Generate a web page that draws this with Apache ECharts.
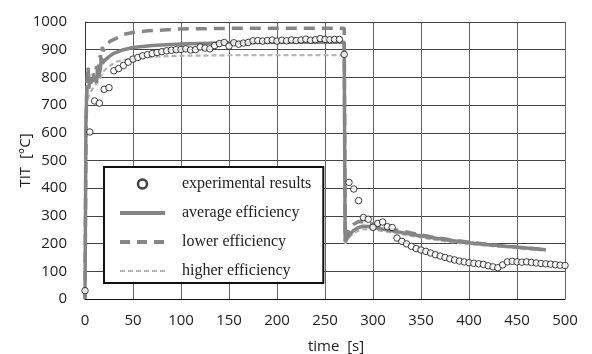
<!DOCTYPE html>
<html>
<head>
<meta charset="utf-8">
<script src="https://cdn.jsdelivr.net/npm/echarts@6/dist/echarts.min.js"></script>
<style>
  html, body { margin: 0; padding: 0; background: #fff; }
  #chart { width: 592px; height: 354px; }
</style>
</head>
<body>
<div id="chart"></div>
<script>
// measured TIT, one sample every 5 s
const expTimes = [];
for (let t = 0; t <= 500; t += 5) expTimes.push(t);
const expValues = [
  30, 603, 715, 707, 757, 763, 824, 832, 843, 855,
  866, 872, 878, 882, 886, 890, 893, 896, 898, 900,
  901, 903, 899, 900, 910, 906, 903, 915, 922, 926,
  913, 925, 920, 924, 926, 932, 933, 931, 933, 935,
  931, 934, 932, 935, 933, 935, 938, 934, 936, 940,
  937, 936, 937, 937, 883, 421, 397, 355, 294, 288,
  259, 273, 278, 261, 258, 220, 208, 199, 190, 182,
  177, 172, 166, 160, 155, 150, 145, 141, 137, 134,
  131, 129, 127, 125, 120, 116, 113, 123, 134, 136,
  134, 133, 134, 132, 130, 128, 127, 126, 124, 122,
  121
];

// model curves: [time, TIT]
const averageEff = [
  [0, 0], [1, 650], [2, 770], [4, 760], [5, 800], [6, 780], [8, 790], [10, 800],
  [12, 780], [13, 830], [14, 800], [16, 830], [17, 870], [18, 850], [20, 860],
  [25, 875], [30, 887], [40, 900], [50, 908], [70, 915], [100, 921], [150, 925],
  [200, 927], [270, 927], [271, 207], [275, 230], [280, 248], [285, 258],
  [290, 263], [295, 262], [300, 258], [320, 246], [340, 234], [360, 222],
  [380, 212], [400, 203], [420, 196], [440, 190], [460, 184], [480, 178]
];
const lowerEff = [
  [0, 0], [1, 600], [2, 780], [3, 840], [4, 800], [6, 800], [8, 820], [10, 790],
  [12, 840], [14, 830], [16, 880], [17, 860], [18, 910], [19, 895], [22, 915],
  [26, 930], [32, 940], [40, 955], [50, 962], [66, 968], [100, 975], [150, 977],
  [270, 977], [271, 212], [275, 250], [280, 270], [285, 280], [290, 279],
  [300, 270], [320, 252], [340, 238], [360, 225], [380, 214], [400, 205],
  [420, 197], [440, 190], [460, 184], [480, 178]
];
const higherEff = [
  [0, 0], [1, 600], [2, 720], [5, 740], [8, 760], [12, 778], [16, 800], [20, 825],
  [25, 840], [33, 857], [50, 870], [70, 875], [100, 878], [150, 880], [270, 880],
  [271, 200], [275, 222], [280, 238], [285, 247], [290, 252], [300, 250],
  [320, 240], [340, 228], [360, 216], [380, 206], [400, 198], [420, 192],
  [440, 186], [460, 180], [480, 174]
];

const seriesNames = ['experimental results', 'average efficiency', 'lower efficiency', 'higher efficiency'];

const chart = echarts.init(document.getElementById('chart'), null, { renderer: 'canvas' });

const labelFont = { fontFamily: 'Open Sans', fontSize: 15, color: '#222' };
const noSymbol = { opacity: 0 };

chart.setOption({
  animation: false,
  grid: { left: 85, right: 27, top: 22, bottom: 55, containLabel: false, outerBoundsMode: 'none' },
  legend: {
    orient: 'vertical',
    left: 104,
    top: 167,
    padding: [9, 12, 4, 14],
    itemGap: 13,
    itemWidth: 45,
    itemHeight: 9,
    backgroundColor: '#fff',
    borderColor: '#111',
    borderWidth: 2,
    borderRadius: 0,
    textStyle: {
      fontFamily: 'Liberation Serif',
      fontSize: 16,
      color: '#222',
      padding: [0, 0, 0, 12]
    },
    data: [
      { name: seriesNames[0], icon: 'circle', itemStyle: { color: '#fff', borderColor: '#111', borderWidth: 2.5 } },
      { name: seriesNames[1], itemStyle: noSymbol, lineStyle: { width: 4, color: '#858585', type: 'solid' } },
      { name: seriesNames[2], itemStyle: noSymbol, lineStyle: { width: 4, color: '#878787', type: [10, 7] } },
      { name: seriesNames[3], itemStyle: noSymbol, lineStyle: { width: 2, color: '#b3b3b3', type: [5, 3] } }
    ]
  },
  xAxis: {
    type: 'value',
    min: 0,
    max: 500,
    interval: 50,
    name: 'time  [s]',
    nameLocation: 'middle',
    nameGap: 40,
    nameTextStyle: { ...labelFont, padding: [0, 0, 0, 22] },
    axisLabel: { ...labelFont, margin: 14 },
    axisTick: { show: false },
    axisLine: { show: true, lineStyle: { color: '#111', width: 1 } },
    splitLine: { show: true, lineStyle: { color: '#666', width: 1 } }
  },
  yAxis: {
    type: 'value',
    min: 0,
    max: 1000,
    interval: 100,
    name: 'TIT  [°C]',
    nameLocation: 'middle',
    nameGap: 52,
    nameMoveOverlap: false,
    nameTextStyle: labelFont,
    axisLabel: { ...labelFont, margin: 18, formatter: (v) => String(v) },
    axisTick: { show: false },
    axisLine: { show: true, lineStyle: { color: '#333', width: 1 } },
    splitLine: { show: true, lineStyle: { color: '#444', width: 1 } }
  },
  series: [
    {
      name: seriesNames[1],
      type: 'line',
      data: averageEff,
      symbol: 'none',
      z: 3,
      lineStyle: { color: '#858585', width: 3.5, type: 'solid' },
      itemStyle: { color: '#858585' }
    },
    {
      name: seriesNames[2],
      type: 'line',
      data: lowerEff,
      symbol: 'none',
      z: 2,
      lineStyle: { color: '#878787', width: 3.5, type: [11, 7] },
      itemStyle: { color: '#878787' }
    },
    {
      name: seriesNames[3],
      type: 'line',
      data: higherEff,
      symbol: 'none',
      z: 2,
      lineStyle: { color: '#b3b3b3', width: 2.2, type: [5, 3] },
      itemStyle: { color: '#b3b3b3' }
    },
    {
      name: seriesNames[0],
      type: 'scatter',
      data: expTimes.map((t, i) => [t, expValues[i]]),
      symbol: 'circle',
      symbolSize: 6.5,
      z: 5,
      itemStyle: { color: '#fff', borderColor: '#111', borderWidth: 1 }
    }
  ]
});
</script>
</body>
</html>
